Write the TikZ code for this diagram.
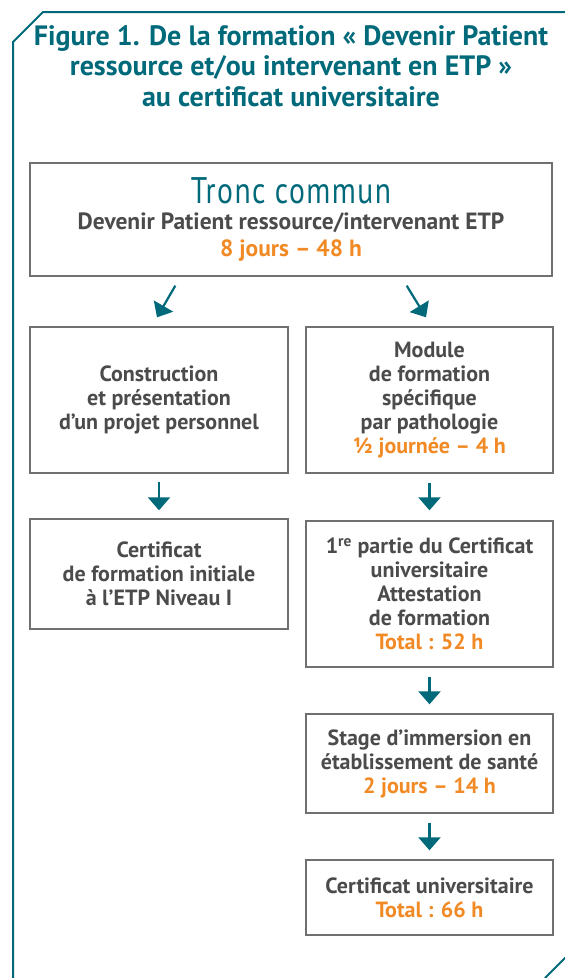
\documentclass[tikz,border=0pt]{standalone}
\usepackage{fontspec}
\setmainfont{PT Sans}
\newfontfamily\troncfont{PT Sans}[LetterSpace=4,FakeStretch=0.8]
\usetikzlibrary{arrows.meta,calc}
\definecolor{ctteal}{HTML}{00697A}
\definecolor{ctorange}{HTML}{F18A25}
\definecolor{cttext}{HTML}{4B4B4B}
\definecolor{ctborder}{HTML}{707070}
\tikzset{
  box/.style={draw=ctborder, line width=1.4pt, inner sep=0pt, align=center,
    text=cttext, font=\bfseries\fontsize{22}{24}\selectfont},
  arr/.style={draw=ctteal, line width=2.2pt, -{Triangle[width=22pt,length=13pt]}},
  frame/.style={draw=ctteal, line width=2pt},
}
\newcommand{\hl}[1]{{\color{ctorange}#1}}
\begin{document}
\begin{tikzpicture}[x=1pt,y=-1pt]
\useasboundingbox (0,0) rectangle (565,978);
\clip (0,0) rectangle (565,978);
% frame
\draw[frame] (13,990) -- (13,42) -- (43,12) -- (580,12);
\draw[frame] (545,978) -- (575,948);
% title
\node[text=ctteal, font=\bfseries\fontsize{28}{30.5}\selectfont, align=center] (title) at (291,66)
  {Figure 1. De la formation « Devenir Patient\\ressource et/ou intervenant en ETP »\\au certificat universitaire};
% boxes
\node[box, minimum width=522pt, minimum height=113pt, font=\bfseries\fontsize{23.5}{27}\selectfont] (tronc) at (291,219.5)
  {{\troncfont\mdseries\fontsize{37}{30}\selectfont\color{ctteal}Tronc commun}\\[-1pt]
   Devenir Patient ressource/intervenant ETP\\ \hl{8 jours – 48 h}};
\node[box, minimum width=258pt, minimum height=146pt] (l1) at (159,400)
  {Construction\\et présentation\\d’un projet personnel};
\node[box, minimum width=247pt, minimum height=146pt] (r1) at (429.5,400)
  {Module\\de formation\\spécifique\\par pathologie\\ \hl{½ journée – 4 h}};
\node[box, minimum width=258pt, minimum height=110pt] (l2) at (159,574)
  {Certificat\\de formation initiale\\à l’ETP Niveau I};
\node[box, minimum width=247pt, minimum height=146pt] (r2) at (429.5,594)
  {1\textsuperscript{re} partie du Certificat\\universitaire\\Attestation\\de formation\\ \hl{Total : 52 h}};
\node[box, minimum width=247pt, minimum height=99pt] (r3) at (429.5,763.5)
  {Stage d’immersion en\\établissement de santé\\ \hl{2 jours – 14 h}};
\node[box, minimum width=247pt, minimum height=75pt] (r4) at (429.5,897.5)
  {Certificat universitaire\\ \hl{Total : 66 h}};
% arrows
\draw[arr] ($(tronc.south west)+(146,9)$) -- ($(l1.north)+(-2,-9)$);
\draw[arr] ($(tronc.south east)+(-146,9)$) -- ($(r1.north)+(-3.5,-9)$);
\draw[arr] ($(l1.south)+(0,8)$) -- ($(l2.north)+(0,-8)$);
\draw[arr] ($(r1.south)+(0,9)$) -- ($(r2.north)+(0,-10)$);
\draw[arr] ($(r2.south)+(0,9)$) -- ($(r3.north)+(0,-9)$);
\draw[arr] ($(r3.south)+(0,9)$) -- ($(r4.north)+(0,-9)$);
\end{tikzpicture}
\end{document}
